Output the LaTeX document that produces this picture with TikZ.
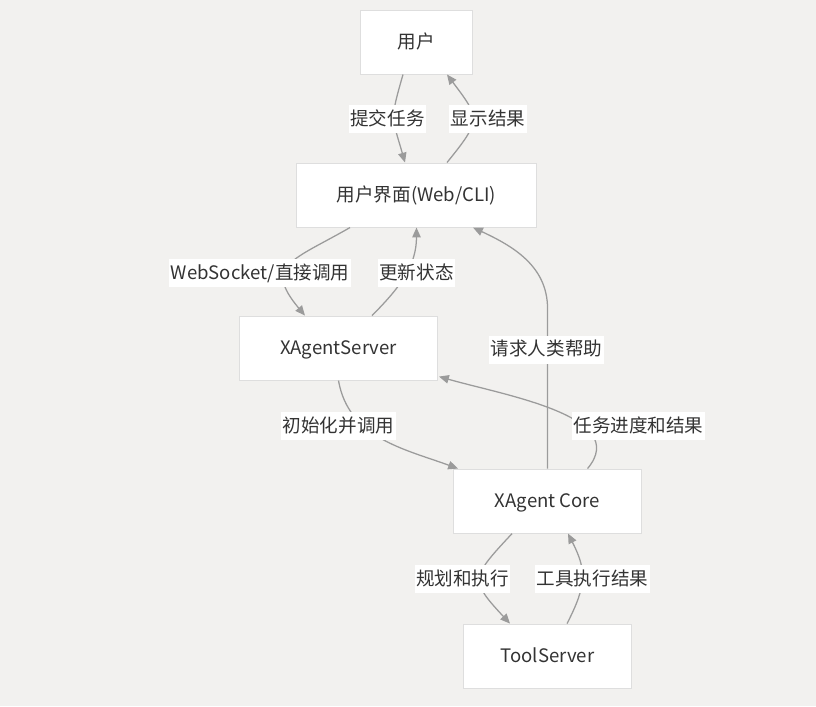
\documentclass[tikz,border=0pt]{standalone}
\usepackage{fontspec}
\setmainfont{Noto Sans CJK SC}
\usepackage{tikz}
\usetikzlibrary{arrows.meta, positioning}
\usepackage{xcolor}
\definecolor{bg}{RGB}{242,241,239}
\definecolor{edgegray}{RGB}{155,155,155}
\definecolor{boxline}{RGB}{222,222,222}
\definecolor{txt}{RGB}{51,51,51}

\begin{document}
\begin{tikzpicture}[->, >={Triangle[length=7pt, width=6pt]}, x=0.025cm, y=0.025cm,
    node distance=2.2cm, font=\fontsize{13.2}{16}\selectfont, text=txt]
    \tikzstyle{box} = [draw=boxline, line width=0.7pt, fill=white, inner xsep=0.925cm, inner ysep=0pt, minimum height=1.6cm, text height=1em, text depth=0.14em]
    \tikzstyle{lbl} = [fill=white, inner xsep=1pt, inner ysep=0pt, minimum height=0.7cm, text height=1em, text depth=0.14em]
    \tikzstyle{link} = [draw=edgegray, line width=0.9pt]
    \fill[bg, -] (0,0) rectangle (816,-706);
    \node [box] at (416.5,-42) (1) {用户};
    \node [box, minimum width=6cm, below=of 1] (2) {用户界面(Web/CLI)};
    \node [box, minimum width=4.95cm, below=of 2, xshift=-1.95cm] (3) {XAgentServer};
    \node [box, minimum width=4.7cm, below=of 3, xshift=5.225cm] (4) {XAgent Core};
    \node [box, below=of 4, yshift=-0.05cm] (5) {ToolServer};
    % edges first, labels on top
    \draw[link] ([shift={(-13.5,0)}]1.south) to[out=-106, in=106, looseness=1.4] ([shift={(-11.5,0)}]2.north);
    \draw[link] ([shift={(30.5,0)}]2.north) to[out=51, in=-53, looseness=1.6] ([shift={(30.5,0)}]1.south);
    \draw[link] ([shift={(-66.5,0)}]2.south) to[out=-150, in=130, looseness=1.7] ([shift={(-33.5,0)}]3.north);
    \draw[link] ([shift={(33.5,0)}]3.north) to[out=45, in=-90] (2.south);
    \draw[link] (4.north) -- ++(0,160) to[out=90, in=-25] ([shift={(56.5,0)}]2.south);
    \draw[link] ([shift={(40,0)}]4.north) to[out=50, in=-16] ([shift={(1,4)}]3.south east);
    \draw[link] (3.south) to[out=-80, in=160] ([shift={(5,0)}]4.north west);
    \draw[link] ([shift={(-35.5,0)}]4.south) to[out=-133, in=133, looseness=1.7] ([shift={(-37.5,0)}]5.north);
    \draw[link] ([shift={(19.5,0)}]5.north) to[out=63, in=-63, looseness=1.2] ([shift={(20.5,0)}]4.south);
    \node [lbl] at (387.5,-119) (12) {提交任务};
    \node [lbl] at (488,-119) (21) {显示结果};
    \node [lbl] at (260,-273) (23) {WebSocket/直接调用};
    \node [lbl] at (416.5,-273) (32) {更新状态};
    \node [lbl] at (546.5,-349.5) (42) {请求人类帮助};
    \node [lbl] at (638.5,-426) (43) {任务进度和结果};
    \node [lbl] at (338.5,-426) (34) {初始化并调用};
    \node [lbl] at (462.5,-579) (45) {规划和执行};
    \node [lbl] at (592.5,-579) (54) {工具执行结果};
\end{tikzpicture}
\end{document}
